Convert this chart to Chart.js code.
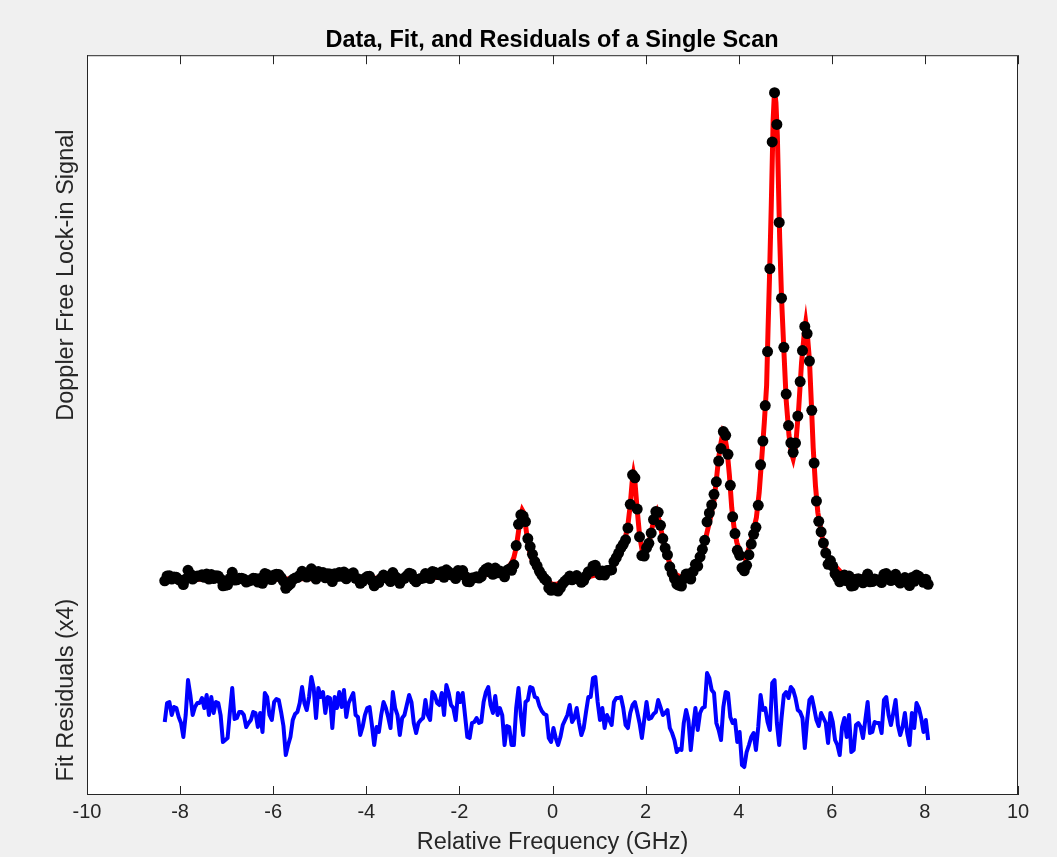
<!DOCTYPE html>
<html lang="en">
<head>
    <meta charset="UTF-8">
    <title>Data, Fit, and Residuals of a Single Scan</title>
    <script src="https://cdn.jsdelivr.net/npm/chart.js@4.4.1/dist/chart.umd.min.js"></script>
    <style>
        html, body { margin: 0; padding: 0; background: #f0f0f0; overflow: hidden; }
        canvas { display: block; }
    </style>
</head>
<body>
    <canvas id="scan" width="1057" height="857"></canvas>

    <script>
        // scan grid (GHz): first point and spacing of the recorded points
        const SCAN_START = -8.33;
        const SCAN_STEP = 0.05;

        // lock-in signal, one value per scan point (arbitrary units)
        const signal = [
            -0.03, 0.16, 0.17, 0.04, 0.12, 0.11, 0.02, -0.04, -0.18, 0.04,
            0.39, 0.24, 0.04, 0.12, 0.16, 0.16, 0.21, 0.11, 0.24, 0.04,
            0.22, 0.06, 0.17, 0.16, 0.04, -0.23, -0.21, -0.19, 0.07, 0.31,
            0.00, 0.01, 0.07, 0.07, 0.04, -0.08, -0.04, -0.01, 0.07, 0.06,
            -0.08, 0.06, -0.13, 0.26, 0.22, 0.04, 0.02, 0.20, 0.23, 0.22,
            0.10, -0.04, -0.33, -0.23, -0.15, 0.02, 0.08, 0.10, 0.19, 0.35,
            0.19, 0.12, 0.25, 0.45, 0.34, 0.04, 0.34, 0.25, 0.30, 0.09,
            0.25, 0.24, -0.06, 0.25, 0.14, 0.30, 0.15, 0.32, 0.05, 0.19,
            0.24, 0.29, 0.07, 0.05, -0.13, -0.05, 0.07, 0.14, 0.15, -0.03,
            -0.23, -0.05, -0.10, 0.07, 0.20, 0.14, 0.05, -0.06, 0.30, 0.14,
            0.07, -0.13, 0.04, 0.07, 0.17, 0.27, 0.24, 0.03, -0.07, 0.03,
            0.06, 0.08, 0.26, 0.11, 0.06, 0.34, 0.31, 0.23, 0.21, 0.33,
            0.11, 0.41, 0.33, 0.21, 0.18, 0.06, 0.38, 0.29, 0.38, 0.16,
            -0.06, -0.07, 0.08, 0.09, 0.13, 0.08, 0.14, 0.34, 0.44, 0.49,
            0.31, 0.23, 0.48, 0.29, 0.36, 0.29, 0.13, 0.38, 0.44, 0.39,
            0.61, 1.38, 2.23, 2.61, 2.56, 2.34, 1.66, 1.34, 1.03, 0.74,
            0.56, 0.35, 0.20, 0.07, -0.02, -0.32, -0.41, -0.30, -0.40, -0.44,
            -0.31, -0.14, -0.04, 0.04, 0.16, 0.01, 0.06, 0.18, 0.03, -0.09,
            -0.02, 0.16, 0.33, 0.35, 0.56, 0.59, 0.36, 0.21, 0.36, 0.20,
            0.38, 0.39, 0.41, 0.74, 0.90, 1.08, 1.29, 1.43, 1.61, 2.08,
            3.03, 4.21, 4.09, 2.84, 1.73, 0.98, 0.96, 1.29, 1.47, 1.88,
            2.42, 2.74, 2.71, 2.19, 1.66, 1.28, 1.01, 0.53, 0.28, 0.06,
            -0.16, -0.21, -0.24, 0.05, 0.24, 0.24, 0.04, 0.34, 0.63, 0.56,
            0.93, 1.23, 1.59, 2.33, 2.68, 3.01, 3.43, 3.93, 4.76, 5.26,
            5.94, 5.79, 5.03, 3.79, 2.53, 1.86, 1.19, 0.99, 0.49, 0.37,
            0.59, 1.01, 1.44, 1.83, 2.11, 2.99, 4.61, 5.56, 6.98, 9.14,
            12.46, 17.53, 19.5, 18.23, 14.31, 11.28, 9.31, 7.44, 6.18, 5.49,
            5.11, 5.48, 6.56, 7.94, 9.18, 10.15, 9.86, 8.76, 6.79, 4.68,
            3.16, 2.35, 1.93, 1.48, 1.08, 0.63, 0.78, 0.56, 0.26, 0.11,
            -0.07, 0.15, 0.20, -0.03, 0.16, -0.24, -0.22, 0.03, 0.05, 0.00,
            -0.11, 0.07, 0.24, -0.07, -0.06, 0.04, 0.00, 0.00, -0.10, 0.23,
            0.26, 0.08, -0.02, 0.10, 0.23, -0.02, -0.12, -0.04, 0.10, -0.10,
            -0.22, 0.10, -0.05, 0.20, 0.15, 0.05, -0.09, 0.03, -0.17
        ];

        // data minus fit, same points (plotted x4 under the scan)
        const residual = [
            -0.06, 0.13, 0.14, 0.01, 0.09, 0.08, -0.01, -0.07, -0.21, 0.01,
            0.36, 0.21, 0.01, 0.09, 0.13, 0.13, 0.18, 0.08, 0.21, 0.01,
            0.19, 0.03, 0.14, 0.13, 0.01, -0.26, -0.24, -0.22, 0.04, 0.28,
            -0.03, -0.02, 0.04, 0.04, 0.01, -0.11, -0.07, -0.04, 0.04, 0.03,
            -0.11, 0.03, -0.16, 0.23, 0.19, 0.01, -0.04, 0.14, 0.17, 0.16,
            0.04, -0.10, -0.39, -0.29, -0.21, -0.04, 0.02, 0.04, 0.13, 0.29,
            0.13, 0.06, 0.19, 0.39, 0.28, -0.02, 0.28, 0.19, 0.24, 0.03,
            0.19, 0.18, -0.12, 0.19, 0.08, 0.24, 0.09, 0.26, -0.01, 0.13,
            0.18, 0.23, 0.01, -0.01, -0.19, -0.11, 0.01, 0.08, 0.09, -0.09,
            -0.29, -0.11, -0.16, 0.01, 0.14, 0.08, -0.01, -0.12, 0.24, 0.08,
            0.01, -0.19, -0.02, 0.01, 0.11, 0.21, 0.14, -0.07, -0.17, -0.07,
            -0.04, -0.02, 0.16, 0.01, -0.04, 0.24, 0.21, 0.13, 0.11, 0.23,
            0.01, 0.31, 0.23, 0.11, 0.08, -0.04, 0.23, 0.14, 0.23, 0.01,
            -0.21, -0.22, -0.07, -0.06, -0.02, -0.07, -0.06, 0.14, 0.24, 0.29,
            0.11, 0.03, 0.20, 0.01, 0.08, 0.01, -0.29, -0.10, -0.11, -0.29,
            -0.29, 0.08, 0.28, 0.01, -0.19, 0.14, 0.16, 0.29, 0.28, 0.19,
            0.18, 0.10, 0.05, 0.02, 0.01, -0.22, -0.26, -0.12, -0.22, -0.29,
            -0.21, -0.09, -0.04, 0.01, 0.11, -0.06, -0.02, 0.08, -0.07, -0.19,
            -0.12, 0.04, 0.19, 0.19, 0.38, 0.39, 0.14, -0.04, 0.08, -0.12,
            0.01, -0.04, -0.09, 0.14, 0.18, 0.18, 0.19, 0.08, -0.09, -0.12,
            0.03, 0.11, 0.14, 0.04, -0.07, -0.22, -0.04, 0.14, -0.03, -0.02,
            0.02, 0.04, 0.16, 0.09, 0.01, 0.03, 0.06, -0.12, -0.17, -0.24,
            -0.36, -0.33, -0.34, -0.07, 0.06, -0.04, -0.34, -0.11, 0.08, -0.14,
            0.03, 0.08, 0.09, 0.43, 0.38, 0.26, 0.23, -0.07, -0.14, -0.24,
            0.09, 0.24, 0.23, -0.01, -0.07, -0.04, -0.26, -0.16, -0.49, -0.51,
            -0.36, -0.29, -0.21, -0.17, -0.34, -0.11, 0.21, 0.06, 0.08, -0.06,
            -0.14, 0.33, 0.36, -0.07, -0.29, -0.02, 0.21, 0.24, 0.18, 0.29,
            0.26, 0.18, 0.06, 0.04, -0.02, -0.32, -0.04, 0.16, 0.19, 0.08,
            -0.04, -0.10, 0.03, -0.02, -0.07, -0.27, 0.03, -0.06, -0.24, -0.29,
            -0.39, -0.11, -0.02, -0.21, 0.01, -0.36, -0.34, -0.09, -0.07, -0.11,
            -0.22, -0.04, 0.14, -0.17, -0.16, -0.06, -0.07, -0.07, -0.17, 0.16,
            0.19, 0.01, -0.09, 0.03, 0.16, -0.09, -0.19, -0.11, 0.03, -0.17,
            -0.29, 0.03, -0.12, 0.13, 0.08, -0.02, -0.16, -0.04, -0.24
        ];

        // fitted curve
        const fitFreq = [
            -8.33, -6.1, -5.5, -4.5, -3.5, -2.5, -2.0, -1.5, -1.2, -1.05,
            -0.95, -0.88, -0.83, -0.78, -0.73, -0.68, -0.65, -0.62, -0.58, -0.53,
            -0.48, -0.43, -0.38, -0.3, -0.2, -0.1, 0.0, 0.1, 0.2, 0.3,
            0.5, 0.7, 0.9, 1.1, 1.25, 1.35, 1.45, 1.55, 1.62, 1.67,
            1.71, 1.74, 1.77, 1.82, 1.87, 1.93, 1.98, 2.05, 2.12, 2.19,
            2.24, 2.29, 2.37, 2.45, 2.55, 2.65, 2.77, 2.87, 3.0, 3.1,
            3.2, 3.3, 3.4, 3.47, 3.52, 3.57, 3.62, 3.66, 3.7, 3.75,
            3.8, 3.85, 3.9, 3.96, 4.04, 4.13, 4.2, 4.3, 4.38, 4.44,
            4.5, 4.55, 4.6, 4.63, 4.66, 4.7, 4.74, 4.77, 4.8, 4.83,
            4.88, 4.92, 4.97, 5.02, 5.08, 5.13, 5.17, 5.22, 5.29, 5.35,
            5.41, 5.44, 5.48, 5.52, 5.56, 5.6, 5.65, 5.7, 5.8, 5.9,
            6.05, 6.2, 6.4, 7.0, 8.07
        ];
        const fitSignal = [
            0.03, 0.03, 0.05, 0.06, 0.08, 0.1, 0.13, 0.19, 0.28, 0.4,
            0.52, 0.68, 0.9, 1.3, 1.95, 2.6, 2.8, 2.7, 2.2, 1.5,
            1.05, 0.75, 0.55, 0.32, 0.1, -0.07, -0.17, -0.17, -0.07, 0.02,
            0.09, 0.1, 0.19, 0.3, 0.47, 0.65, 1.0, 1.55, 2.2, 3.0,
            3.9, 4.25, 3.95, 2.8, 1.8, 1.15, 1.0, 1.3, 1.9, 2.55,
            2.75, 2.4, 1.65, 1.05, 0.5, 0.22, 0.1, 0.18, 0.42, 0.65,
            1.05, 1.75, 2.55, 3.2, 4.0, 4.9, 5.5, 5.9, 5.75, 5.2,
            4.2, 2.9, 2.1, 1.5, 1.07, 0.87, 1.15, 1.85, 2.5, 3.5,
            5.0, 6.3, 7.8, 10.0, 12.0, 15.0, 18.4, 19.6, 19.1, 17.8,
            13.7, 11.3, 9.2, 7.2, 5.8, 5.1, 4.85, 5.3, 6.9, 8.7,
            9.9, 10.3, 9.7, 8.8, 7.1, 5.3, 3.75, 2.7, 1.65, 1.0,
            0.6, 0.3, 0.15, 0.08, 0.06
        ];

        const RESIDUAL_GAIN = 4;       // residuals are shown x4
        const RESIDUAL_OFFSET = -5.44; // and shifted below the scan
        const Y_MIN = -8.6;
        const Y_MAX = 21;
        const X_MIN = -10;
        const X_MAX = 10;
        const X_STEP = 2;

        const FONT = "'Liberation Sans', Arial, Helvetica, sans-serif";
        const INK = '#262626';

        const freq = signal.map((_, i) => +(SCAN_START + i * SCAN_STEP).toFixed(2));
        const dataPts = signal.map((v, i) => ({ x: freq[i], y: v }));
        const fitPts = fitFreq.map((f, i) => ({ x: f, y: fitSignal[i] }));
        const resPts = residual.map((r, i) => ({ x: freq[i], y: RESIDUAL_OFFSET + RESIDUAL_GAIN * r }));

        // white axes box, inward ticks and the two y labels (MATLAB look)
        const axesFrame = {
            id: 'axesFrame',
            beforeDraw(chart) {
                const { ctx, chartArea: a } = chart;
                ctx.save();
                ctx.fillStyle = '#f0f0f0';
                ctx.fillRect(0, 0, chart.width, chart.height);
                ctx.fillStyle = '#ffffff';
                ctx.fillRect(a.left, a.top, a.right - a.left, a.bottom - a.top);
                ctx.restore();
            },
            afterDraw(chart) {
                const { ctx, chartArea: a, scales } = chart;
                ctx.save();
                ctx.strokeStyle = INK;
                ctx.lineWidth = 1;
                ctx.strokeRect(a.left + 0.5, a.top + 0.5, a.right - a.left - 1, a.bottom - a.top - 1);
                ctx.beginPath();
                scales.x.ticks.forEach(t => {
                    const px = Math.round(scales.x.getPixelForValue(t.value)) + 0.5;
                    ctx.moveTo(px, a.bottom);
                    ctx.lineTo(px, a.bottom - 9);
                    ctx.moveTo(px, a.top);
                    ctx.lineTo(px, a.top + 9);
                });
                ctx.stroke();

                ctx.fillStyle = INK;
                ctx.font = '23.5px ' + FONT;
                ctx.textAlign = 'center';
                ctx.textBaseline = 'middle';
                const labels = [
                    ['Doppler Free Lock-in Signal', 12.2],
                    ['Fit Residuals (x4)', -4.4]
                ];
                labels.forEach(([txt, val]) => {
                    ctx.save();
                    ctx.translate(67, scales.y.getPixelForValue(val));
                    ctx.rotate(-Math.PI / 2);
                    ctx.fillText(txt, 0, 0);
                    ctx.restore();
                });
                ctx.restore();
            }
        };

        new Chart(document.getElementById('scan'), {
            type: 'scatter',
            data: {
                datasets: [
                    {
                        label: 'Data',
                        data: dataPts,
                        pointRadius: 5.5,
                        pointBorderWidth: 0,
                        backgroundColor: '#000000',
                        borderColor: '#000000'
                    },
                    {
                        label: 'Fit',
                        data: fitPts,
                        showLine: true,
                        pointRadius: 0,
                        borderColor: '#ff0000',
                        borderWidth: 5
                    },
                    {
                        label: 'Residuals',
                        data: resPts,
                        showLine: true,
                        pointRadius: 0,
                        borderColor: '#0000ff',
                        borderWidth: 4,
                        borderJoinStyle: 'round'
                    }
                ]
            },
            options: {
                responsive: false,
                animation: false,
                layout: { padding: { left: 86, right: 39, top: 0, bottom: 0 } },
                plugins: {
                    legend: { display: false },
                    tooltip: { enabled: false },
                    title: {
                        display: true,
                        text: 'Data, Fit, and Residuals of a Single Scan',
                        color: '#000000',
                        font: { family: FONT, size: 23.5, weight: 'bold' },
                        padding: { top: 26, bottom: 1 }
                    }
                },
                scales: {
                    x: {
                        type: 'linear',
                        min: X_MIN,
                        max: X_MAX,
                        ticks: { stepSize: X_STEP, color: INK, font: { family: FONT, size: 20 }, padding: 5, maxRotation: 0 },
                        grid: { display: false, drawTicks: false },
                        border: { display: false },
                        title: {
                            display: true,
                            text: 'Relative Frequency (GHz)',
                            color: INK,
                            font: { family: FONT, size: 23.5 },
                            padding: { top: 0, bottom: 0 }
                        },
                        afterFit(scale) { scale.height = 62; }
                    },
                    y: {
                        min: Y_MIN,
                        max: Y_MAX,
                        ticks: { display: false },
                        grid: { display: false, drawTicks: false },
                        border: { display: false },
                        afterFit(scale) { scale.width = 1; }
                    }
                }
            },
            plugins: [axesFrame]
        });
    </script>
</body>
</html>
